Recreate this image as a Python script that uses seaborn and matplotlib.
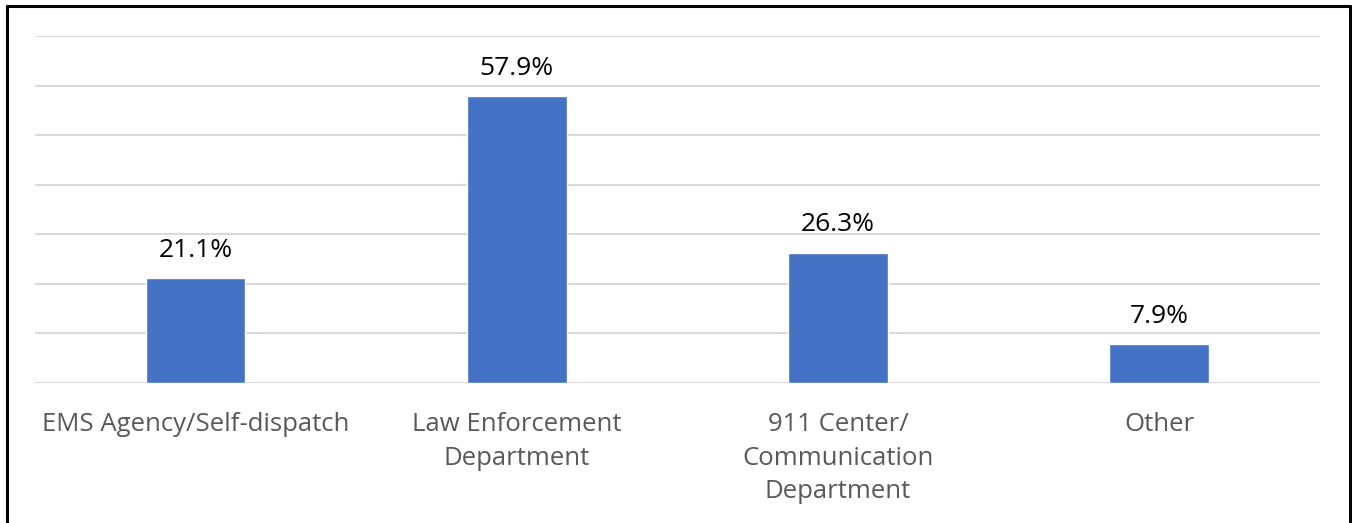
import matplotlib
matplotlib.use("Agg")
import matplotlib.pyplot as plt
import seaborn as sns
import pandas as pd
from matplotlib.lines import Line2D

categories = ["EMS Agency/Self-dispatch", "Law Enforcement\nDepartment",
              "911 Center/\nCommunication\nDepartment", "Other"]
values = [21.1, 57.9, 26.3, 7.9]

df = pd.DataFrame({"category": categories, "value": values})

sns.set_theme(style="white")
plt.rcParams['font.family'] = ['Open Sans', 'DejaVu Sans']

fig = plt.figure(figsize=(13.52, 5.23), dpi=100)
ax = fig.add_axes([0.026, 0.2677, 0.950, 0.6635])

sns.barplot(data=df, x="category", y="value", color="#4472C4", width=0.31,
            saturation=1, ax=ax, zorder=3)

ax.set_ylim(0, 70)
ax.set_yticks(range(0, 71, 10))
ax.yaxis.grid(True, color="#D9D9D9", linewidth=1.5, zorder=0)
ax.set_yticklabels([])
ax.tick_params(axis="y", length=0)
ax.tick_params(axis="x", length=0, pad=21, labelsize=18.5, labelcolor="#595959")
for lbl in ax.get_xticklabels():
    lbl.set_linespacing(1.45)
for s in ax.spines.values():
    s.set_visible(False)
ax.set_xlabel("")
ax.set_ylabel("")

for i, v in enumerate(values):
    ax.annotate(f"{v}%", (i, v), xytext=(0, 11), textcoords="offset points",
                ha="center", va="bottom", fontsize=19, color="black")

# outer frame (bottom edge is outside the picture)
for xs, ys in [([0.005, 0.005], [-0.1, 0.988]), ([0.005, 0.9985], [0.988, 0.988]),
               ([0.9985, 0.9985], [-0.1, 0.988])]:
    fig.add_artist(Line2D(xs, ys, transform=fig.transFigure, color="black", linewidth=2.2))

fig.savefig("out.png", dpi=100)
